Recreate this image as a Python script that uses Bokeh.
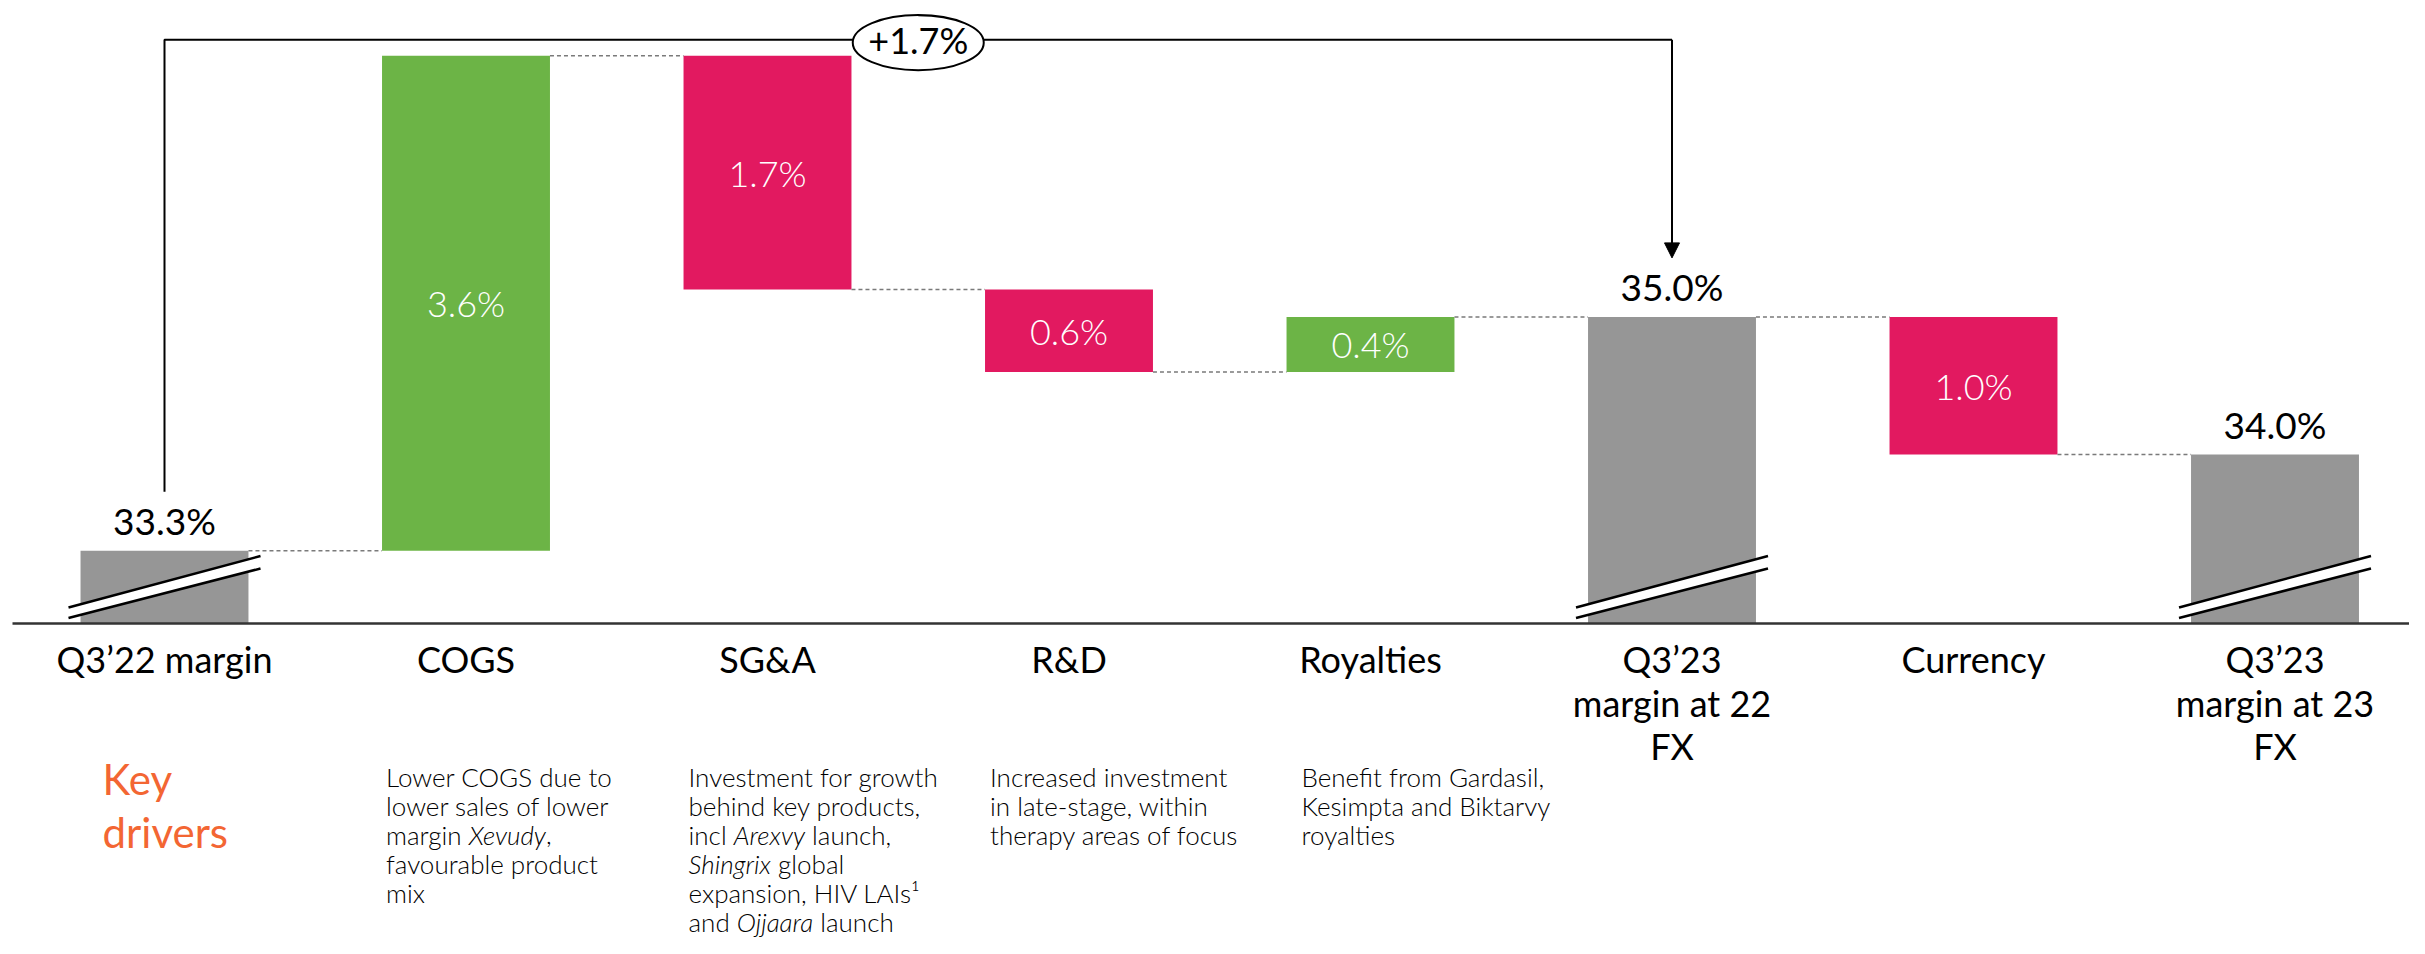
import glob
import os

from bokeh.plotting import figure
from bokeh.models import ColumnDataSource, Arrow, NormalHead, Range1d
from bokeh.core.properties import value
from bokeh.embed import file_html
from bokeh.resources import INLINE

# ---------------- data ----------------
categories = ["Q3’22 margin", "COGS", "SG&A", "R&D", "Royalties",
              "Q3’23 margin at 22 FX", "Currency", "Q3’23 margin at 23 FX"]
category_lines = [["Q3’22 margin"], ["COGS"], ["SG&A"], ["R&D"], ["Royalties"],
                  ["Q3’23", "margin at 22", "FX"], ["Currency"],
                  ["Q3’23", "margin at 23", "FX"]]
kinds = ["total", "delta", "delta", "delta", "delta", "total", "delta", "total"]
values = [33.3, 3.6, -1.7, -0.6, 0.4, 35.0, -1.0, 34.0]
bridge_from = 0
bridge_to = 5

drivers_title = ["Key", "drivers"]
# description lines: list of (text, italic) segments
descriptions = {
    1: [[("Lower COGS due to", False)],
        [("lower sales of lower", False)],
        [("margin ", False), ("Xevudy", True), (",", False)],
        [("favourable product", False)],
        [("mix", False)]],
    2: [[("Investment for growth", False)],
        [("behind key products,", False)],
        [("incl ", False), ("Arexvy", True), (" launch,", False)],
        [("Shingrix", True), (" global", False)],
        [("expansion, HIV LAIs¹", False)],
        [("and ", False), ("Ojjaara", True), (" launch", False)]],
    3: [[("Increased investment", False)],
        [("in late-stage, within", False)],
        [("therapy areas of focus", False)]],
    4: [[("Benefit from Gardasil,", False)],
        [("Kesimpta and Biktarvy", False)],
        [("royalties", False)]],
}

# ---------------- styles / layout ----------------
W, H = 2409, 938
PX_X = 301.5          # pixels per category step
X0_PX = 164           # pixel of first category centre
PX_Y = 137.5          # pixels per percentage point
AXIS_BASE = 32.77     # broken-axis baseline value
BASE_PX_FROM_TOP = 623
BAR_W = 0.557

GREY = "#969696"
GREEN = "#6cb446"
PINK = "#e21960"
ORANGE = "#f36633"
FONT = "Lato"
LIGHT = "Lato Light, Lato"

x_start = -X0_PX / PX_X
x_end = x_start + W / PX_X
y_end = AXIS_BASE + BASE_PX_FROM_TOP / PX_Y
y_start = y_end - H / PX_Y


def px2y(px):
    return px / PX_Y


def px2x(px):
    return px / PX_X


CW = {' ': 0.20, ',': 0.21, '.': 0.21, '-': 0.32, '¹': 0.33, '’': 0.2}
for ch, w in zip("abcdefghijklmnopqrstuvwxyz",
                 [0.49, 0.55, 0.46, 0.55, 0.51, 0.31, 0.49, 0.55, 0.23, 0.23, 0.49, 0.23, 0.83,
                  0.55, 0.55, 0.55, 0.55, 0.35, 0.41, 0.34, 0.55, 0.49, 0.75, 0.48, 0.49, 0.45]):
    CW[ch] = w


def _find_font(names):
    for n in names:
        for root in ["/usr/share/fonts", "/usr/local/share/fonts", os.path.expanduser("~/.fonts")]:
            hits = glob.glob(os.path.join(root, "**", n), recursive=True)
            if hits:
                return hits[0]
    return None


def text_w(s, size, italic=False):
    try:
        from PIL import ImageFont
        names = ["Lato-LightItalic.ttf", "Lato-Italic.ttf"] if italic else ["Lato-Light.ttf", "Lato-Regular.ttf"]
        path = _find_font(names)
        if path:
            return ImageFont.truetype(path, size).getlength(s)
    except Exception:
        pass
    return sum(CW.get(c, 0.62) for c in s) * size


# ---------------- waterfall geometry ----------------
xs = list(range(len(categories)))
bottoms, tops, colors, levels = [], [], [], []
running = None
for k, v in zip(kinds, values):
    if k == "total":
        bottoms.append(AXIS_BASE)
        tops.append(v)
        colors.append(GREY)
        running = v
    else:
        nxt = running + v
        bottoms.append(min(running, nxt))
        tops.append(max(running, nxt))
        colors.append(GREEN if v > 0 else PINK)
        running = nxt
    levels.append(running)

p = figure(width=W, height=H, output_backend="svg", toolbar_location=None,
           x_range=Range1d(x_start, x_end), y_range=Range1d(y_start, y_end),
           min_border=0, background_fill_color="white", border_fill_color="white")
p.xaxis.visible = False
p.yaxis.visible = False
p.grid.visible = False
p.outline_line_color = None

# bars
p.vbar(x=xs, width=BAR_W, top=tops, bottom=bottoms, fill_color=colors, line_color=None)

# connectors
cx0 = [i + BAR_W / 2 for i in xs[:-1]]
cx1 = [i + 1 - BAR_W / 2 for i in xs[:-1]]
p.segment(x0=cx0, x1=cx1, y0=levels[:-1], y1=levels[:-1], line_color="#7a7a7a",
          line_width=1.5, line_dash="4 3")

# break marks on total bars
tot_idx = [i for i, k in enumerate(kinds) if k == "total"]
hw = px2x(96)
bl_lo, bl_hi, br_lo, br_hi = px2y(5.5), px2y(16), px2y(55), px2y(67.5)
p.patches(xs=[[i - hw, i + hw, i + hw, i - hw] for i in tot_idx],
          ys=[[AXIS_BASE + bl_lo, AXIS_BASE + br_lo, AXIS_BASE + br_hi, AXIS_BASE + bl_hi] for i in tot_idx],
          fill_color="white", line_color=None)
p.segment(x0=[i - hw for i in tot_idx] * 2, x1=[i + hw for i in tot_idx] * 2,
          y0=[AXIS_BASE + bl_hi] * len(tot_idx) + [AXIS_BASE + bl_lo] * len(tot_idx),
          y1=[AXIS_BASE + br_hi] * len(tot_idx) + [AXIS_BASE + br_lo] * len(tot_idx),
          line_color="black", line_width=2.5)

# axis line
p.segment(x0=[px2x(-152)], x1=[x_end], y0=[AXIS_BASE], y1=[AXIS_BASE],
          line_color="#333333", line_width=2.5)

# value labels: deltas inside bars
d_idx = [i for i, k in enumerate(kinds) if k == "delta"]
p.text(x=d_idx, y=[(tops[i] + bottoms[i]) / 2 for i in d_idx],
       text=[f"{abs(values[i]):.1f}%" for i in d_idx],
       text_color="white", text_font=value(LIGHT), text_font_size="36px",
       text_align="center", text_baseline="middle")

# totals above bars
p.text(x=tot_idx, y=[tops[i] for i in tot_idx], text=[f"{values[i]:.1f}%" for i in tot_idx],
       text_color="black", text_font=value(FONT), text_font_size="37px",
       text_align="center", text_baseline="middle", y_offset=-30)

# bridge bracket
gap = px2y(59)
top_y = max(tops) + px2y(16)
start_v = values[bridge_from]
end_v = values[bridge_to]
p.line(x=[bridge_from, bridge_from, bridge_to], y=[start_v + gap, top_y, top_y],
       line_color="black", line_width=2)
p.add_layout(Arrow(end=NormalHead(size=15, fill_color="black", line_color="black"),
                   x_start=bridge_to, y_start=top_y, x_end=bridge_to, y_end=end_v + gap,
                   line_color="black", line_width=2))
mid_x = (bridge_from + bridge_to) / 2
p.ellipse(x=[mid_x], y=[top_y - px2y(3)], width=131, height=55, width_units="screen",
          height_units="screen", fill_color="white", line_color="black", line_width=2)
diff = end_v - start_v
p.text(x=[mid_x], y=[top_y], text=[f"{diff:+.1f}%"], text_color="black",
       text_font=value(FONT), text_font_size="36px", text_align="center",
       text_baseline="middle")

# category labels
lx, ly, lt, lo = [], [], [], []
for i, lines in enumerate(category_lines):
    for j, t in enumerate(lines):
        lx.append(i)
        ly.append(AXIS_BASE)
        lt.append(t)
        lo.append(35.5 + 43.5 * j)
p.text(x=lx, y=ly, text=lt, y_offset=lo, text_color="black", text_font=value(FONT),
       text_font_size="36px", text_align="center", text_baseline="middle")

# key drivers title
p.text(x=[-BAR_W / 2] * 2, y=[AXIS_BASE] * 2, text=drivers_title, x_offset=22,
       y_offset=[155, 208], text_color=ORANGE, text_font=value(FONT),
       text_font_size="42px", text_align="left", text_baseline="middle")

# descriptions
DESC_SIZE = 26
desc_off = {1: 4, 2: 5, 3: 5, 4: 15}
reg = dict(x=[], y=[], text=[], xo=[], yo=[])
ita = dict(x=[], y=[], text=[], xo=[], yo=[])
for i, lines in descriptions.items():
    for j, segs in enumerate(lines):
        off = desc_off[i]
        for t, is_it in segs:
            lead = len(t) - len(t.lstrip(" "))
            if lead:
                off += text_w(" " * lead, DESC_SIZE, is_it)
            core = t.lstrip(" ")
            d = ita if is_it else reg
            d["x"].append(i - BAR_W / 2)
            d["y"].append(AXIS_BASE)
            d["text"].append(core)
            d["xo"].append(off)
            d["yo"].append(153 + 29.0 * j)
            off += text_w(core, DESC_SIZE, is_it)
for d, style in ((reg, "normal"), (ita, "italic")):
    p.text(x="x", y="y", text="text", x_offset="xo", y_offset="yo",
           source=ColumnDataSource(d), text_color="black", text_font=value(LIGHT),
           text_font_size=f"{DESC_SIZE}px", text_font_style=style,
           text_align="left", text_baseline="middle")

open("out.html", "w").write(file_html(p, INLINE))
